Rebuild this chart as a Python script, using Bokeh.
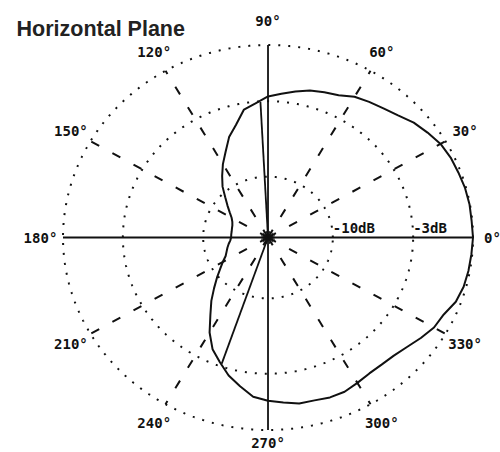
import numpy as np
from bokeh.plotting import figure
from bokeh.models import Range1d, Label, ColumnDataSource
from bokeh.embed import file_html
from bokeh.resources import INLINE
from bokeh.core.properties import value

# ---- data -------------------------------------------------------------
angles_deg = list(range(0, 360, 5))
# relative field level (linear, 1.0 = 0 dB)
level = [
    1.000, 0.997, 0.998, 0.995, 0.988, 0.983, 0.972, 0.950, 0.928, 0.897,
    0.876, 0.860, 0.844, 0.815, 0.803, 0.790, 0.770, 0.750, 0.733, 0.700,
    0.675, 0.605, 0.555, 0.490, 0.440, 0.390, 0.345, 0.295, 0.258, 0.228,
    0.205, 0.192, 0.185, 0.182, 0.180, 0.180, 0.180, 0.185, 0.195, 0.205,
    0.215, 0.228, 0.255, 0.285, 0.325, 0.372, 0.430, 0.490, 0.570, 0.640,
    0.688, 0.742, 0.785, 0.830, 0.848, 0.860, 0.876, 0.876, 0.884, 0.884,
    0.872, 0.862, 0.862, 0.868, 0.885, 0.910, 0.935, 0.946, 0.975, 0.988,
    0.993, 0.996,
]
# pen moves from the centre to the trace
conn_deg = [93, 251]
conn_level = [0.705, 0.693]

ring_db = [0, -3, -10]
ring_labels = ["", "-3dB", "-10dB"]
spoke_deg = [30, 60, 120, 150, 210, 240, 300, 330]
tick_deg = [0, 30, 60, 90, 120, 150, 180, 210, 240, 270, 300, 330]
tick_labels = ["0°", "30°", "60°", "90°", "120°", "150°", "180°",
               "210°", "240°", "270°", "300°", "330°"]
title_text = "Horizontal Plane"

# ---- figure -----------------------------------------------------------
W, H = 500, 452
p = figure(width=W, height=H, output_backend="svg", toolbar_location=None,
           x_range=Range1d(-1.3049, 1.1341), y_range=Range1d(-1.1169, 1.2312),
           min_border=0)
p.axis.visible = False
p.grid.visible = False
p.outline_line_color = None
p.background_fill_color = "white"

INK = "#111111"

# dotted rings
t = np.linspace(0, 2 * np.pi, 1441)
for db in ring_db:
    r = 10 ** (db / 20.0)
    p.line(r * np.cos(t), r * np.sin(t), line_color=INK, line_width=2,
           line_dash="2 8")

# dashed spokes
for a in spoke_deg:
    ar = np.radians(a)
    p.line([0, np.cos(ar)], [0, np.sin(ar)], line_color=INK, line_width=2,
           line_dash="9 15")

# solid axes
p.line([-1, 1], [0, 0], line_color=INK, line_width=1.8)
p.line([0, 0], [-1, 1], line_color=INK, line_width=1.8)

# short spokes making the centre star
for a in range(0, 360, 30):
    ar = np.radians(a + 15)
    p.line([0, 0.035 * np.cos(ar)], [0, 0.035 * np.sin(ar)], line_color=INK,
           line_width=1)

# pattern trace
th = np.radians(np.array(angles_deg + [angles_deg[0]], dtype=float))
lv = np.array(level + [level[0]])
p.line(lv * np.cos(th), lv * np.sin(th), line_color=INK, line_width=2)

for a, l in zip(conn_deg, conn_level):
    ar = np.radians(a)
    p.line([0, l * np.cos(ar)], [0, l * np.sin(ar)], line_color=INK,
           line_width=1.8)

# angle labels
lab_r = []
for a in tick_deg:
    if a == 0:
        lab_r.append(1.095)
    elif a == 90:
        lab_r.append(1.125)
    elif a == 270:
        lab_r.append(1.07)
    else:
        lab_r.append(1.11)
tr = np.radians(np.array(tick_deg, dtype=float))
src = ColumnDataSource(dict(x=np.array(lab_r) * np.cos(tr),
                            y=np.array(lab_r) * np.sin(tr),
                            t=tick_labels))
p.text(x="x", y="y", text="t", source=src, text_align="center",
       text_baseline="middle", text_font=value("DejaVu Sans Mono"),
       text_font_style="bold", text_font_size="14px", text_color=INK)

# ring labels
for db, lab in zip(ring_db, ring_labels):
    if not lab:
        continue
    r = 10 ** (db / 20.0)
    p.add_layout(Label(x=r, y=0.047, text=lab, text_align="left",
                       text_baseline="middle",
                       text_font="DejaVu Sans Mono", text_font_style="bold",
                       text_font_size="14px", text_color=INK))

# title
p.add_layout(Label(x=16, y=H - 28.5, x_units="screen", y_units="screen",
                   text=title_text, text_align="left",
                   text_baseline="alphabetic", text_font="Liberation Sans",
                   text_font_style="bold", text_font_size="21.5px",
                   text_color="#222222"))

open("out.html", "w").write(file_html(p, INLINE))
